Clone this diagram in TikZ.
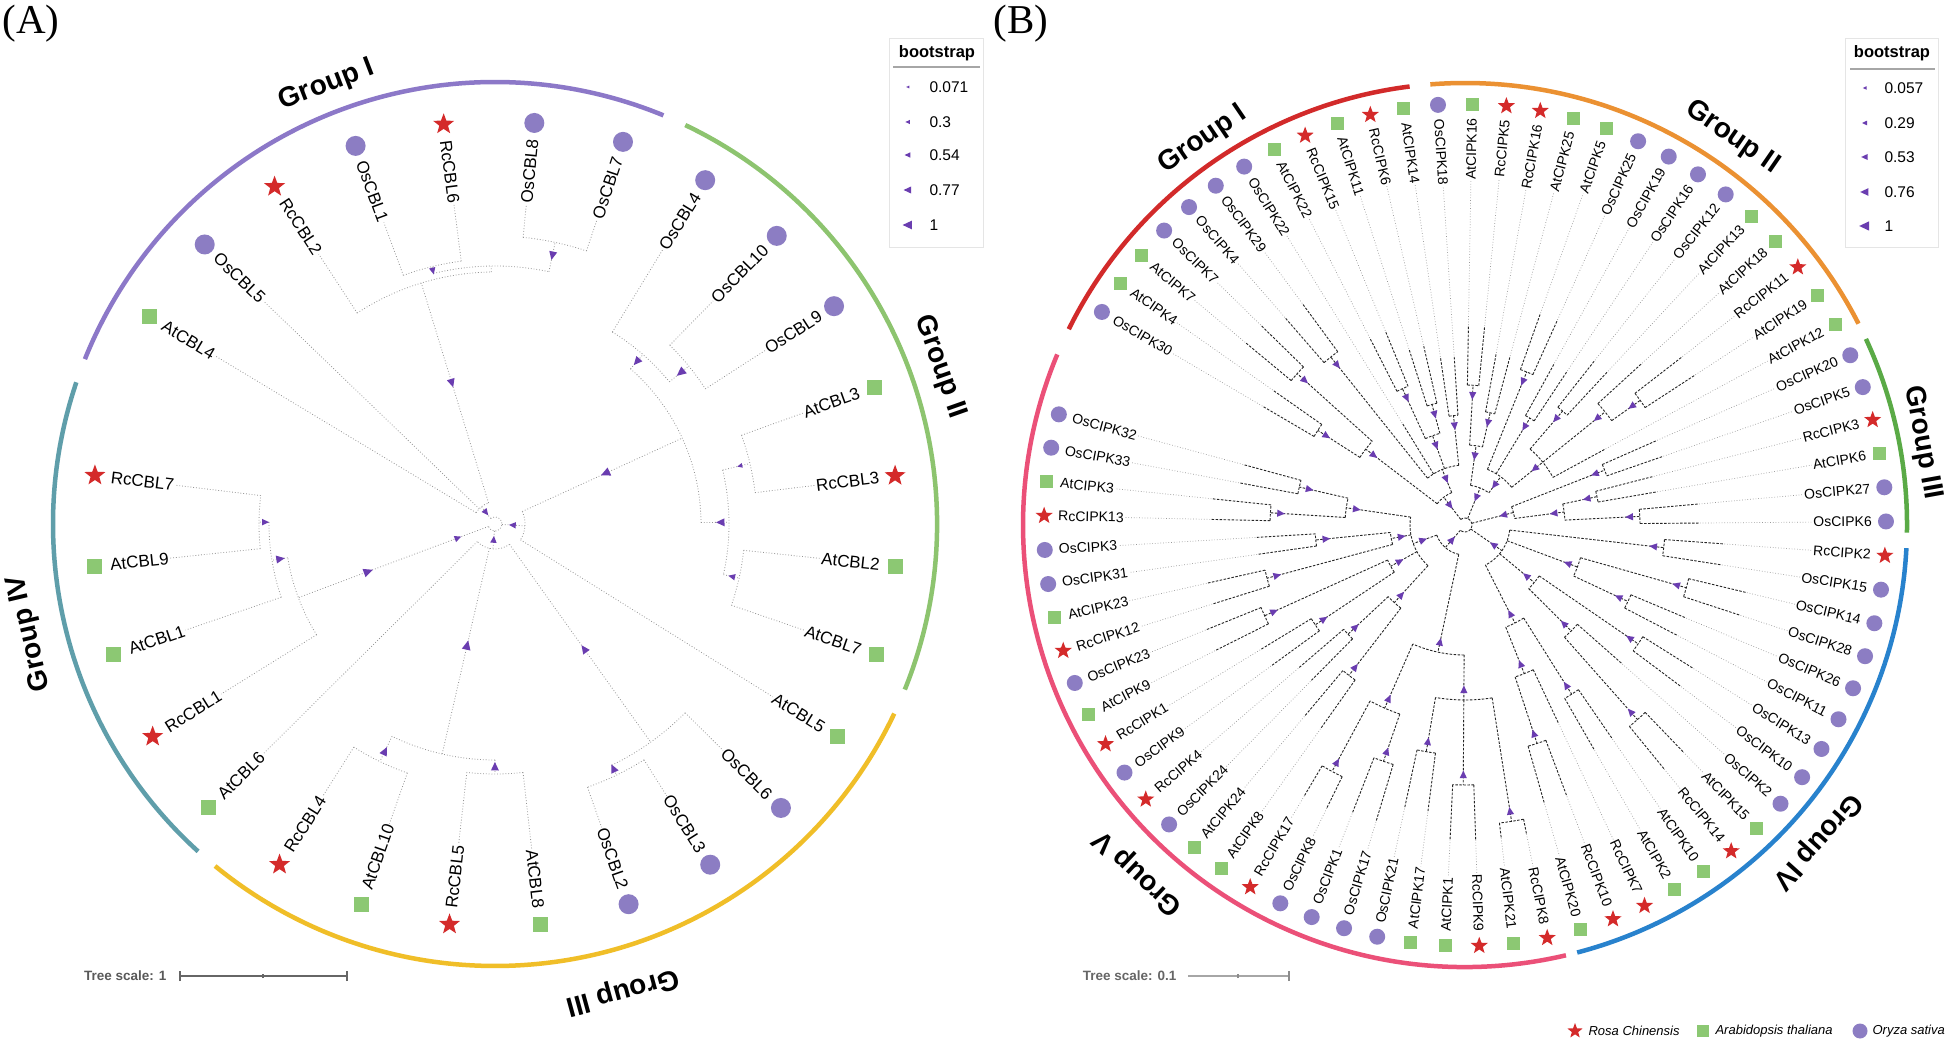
\documentclass[tikz,border=0pt]{standalone}
\usepackage{fontspec}
\setmainfont{Liberation Sans}
\newfontfamily\serifA{Liberation Serif}
\usetikzlibrary{shapes.geometric}

\definecolor{gIa}{HTML}{8C78C8}
\definecolor{gIIa}{HTML}{8DC46F}
\definecolor{gIIIa}{HTML}{F0BE28}
\definecolor{gIVa}{HTML}{5F9EAA}
\definecolor{gIb}{HTML}{D22A2A}
\definecolor{gIIb}{HTML}{EB9132}
\definecolor{gIIIb}{HTML}{5AAA46}
\definecolor{gIVb}{HTML}{2882CD}
\definecolor{gVb}{HTML}{EB5078}
\definecolor{osc}{HTML}{8C7DC3}
\definecolor{atc}{HTML}{8CC873}
\definecolor{rcc}{HTML}{D42A2A}
\definecolor{tricol}{HTML}{6A3DB0}

\tikzset{
  treeA/.style={draw=black!42, dotted, line width=0.8pt},
  brB/.style={draw=black!85, dash pattern=on 2.5pt off 1.5pt, line width=0.9pt},
  extB/.style={draw=black!40, dotted, line width=0.7pt},
  lblA/.style={font=\fontsize{17}{19}\selectfont, inner sep=1pt},
  lblB/.style={font=\fontsize{14}{16}\selectfont, inner sep=1pt},
  mkcA/.style={circle, fill=osc, minimum size=20pt, inner sep=0pt},
  mksA/.style={rectangle, fill=atc, minimum size=15pt, inner sep=0pt},
  mkrA/.style={star, star points=5, star point ratio=2.4, fill=rcc, minimum size=22pt, inner sep=0pt},
  mkcB/.style={circle, fill=osc, minimum size=16pt, inner sep=0pt},
  mksB/.style={rectangle, fill=atc, minimum size=13pt, inner sep=0pt},
  mkrB/.style={star, star points=5, star point ratio=2.4, fill=rcc, minimum size=18pt, inner sep=0pt},
  grp/.style={font=\bfseries\fontsize{28}{30}\selectfont},
  garc/.style={line width=4.5pt},
  legtxt/.style={font=\fontsize{15.5}{17}\selectfont, anchor=west},
  legtitle/.style={font=\bfseries\fontsize{16.5}{18}\selectfont},
}

\newcommand\Tri[3]{\fill[tricol, shift={(#1:#2)}, rotate=#1] (-#3,0) -- (0.7*#3,0.8*#3) -- (0.7*#3,-0.8*#3) -- cycle;}
\newcommand\LTri[3]{\fill[tricol, shift={(#1,#2)}] (-#3,0) -- (0.7*#3,0.8*#3) -- (0.7*#3,-0.8*#3) -- cycle;}
\newcommand\Atri[3]{\pgfmathsetmacro\qt{149-(#1-1)*12.92}\Tri{\qt}{#2}{#3}}

\newcommand\Aleaf[4]{%
  \pgfmathsetmacro\qang{149-(#1-1)*12.92}%
  \pgfmathtruncatemacro\qside{cos(\qang)<0 ? 1 : 0}%
  \edef\qtmp{\noexpand\node[#3] (Am#1) at (\qang:403) {};}\qtmp
  \ifnum\qside=1
    \node[lblA, anchor=west, rotate=\qang+180] (Al#1) at (\qang:388) {#2};
    \draw[treeA] (\qang:#4) -- (Al#1.east);
  \else
    \node[lblA, anchor=east, rotate=\qang] (Al#1) at (\qang:388) {#2};
    \draw[treeA] (\qang:#4) -- (Al#1.west);
  \fi}

\newcommand\Anode[4]{%
  \pgfmathsetmacro\qa{149-(#1-1)*12.92}%
  \pgfmathsetmacro\qb{149-(#2-1)*12.92}%
  \pgfmathsetmacro\qm{(\qa+\qb)/2}%
  \draw[treeA] (\qa:#3) arc[start angle=\qa, end angle=\qb, radius=#3pt];%
  \draw[treeA] (\qm:#4) -- (\qm:#3);}

\newcommand\Bleaf[4]{%
  \pgfmathsetmacro\qang{149.6-(#1-1)*4.66}%
  \pgfmathsetmacro\qtip{min(#4+60,315)}%
  \pgfmathtruncatemacro\qside{cos(\qang)<0 ? 1 : 0}%
  \edef\qtmp{\noexpand\node[#3] (Bm#1) at (\qang:421) {};}\qtmp
  \draw[brB] (\qang:#4) -- (\qang:\qtip);
  \ifnum\qside=1
    \node[lblB, anchor=west, rotate=\qang+180] (Bl#1) at (\qang:408) {#2};
    \draw[extB] (\qang:\qtip) -- (Bl#1.east);
  \else
    \node[lblB, anchor=east, rotate=\qang] (Bl#1) at (\qang:408) {#2};
    \draw[extB] (\qang:\qtip) -- (Bl#1.west);
  \fi}

\newcommand\Bnode[4]{%
  \pgfmathsetmacro\qa{149.6-(#1-1)*4.66}%
  \pgfmathsetmacro\qb{149.6-(#2-1)*4.66}%
  \pgfmathsetmacro\qm{(\qa+\qb)/2}%
  \pgfmathsetmacro\qr{#3-min(10,(#3-#4)/2)}%
  \draw[brB] (\qa:#3) arc[start angle=\qa, end angle=\qb, radius=#3pt];%
  \draw[brB] (\qm:#4) -- (\qm:#3);%
  \Tri{\qm}{\qr}{4.5}}

\begin{document}
\begin{tikzpicture}[x=1pt,y=1pt]
\useasboundingbox (0,0) rectangle (1950,1045);
\fill[white] (0,0) rectangle (1950,1045);

\node[font=\serifA\fontsize{41}{43}\selectfont] (labA) at (31,1021) {(A)};
\node[font=\serifA\fontsize{41}{43}\selectfont] (labB) at (1021,1021) {(B)};

% ================= TREE A =================
\begin{scope}[shift={(495,521)}]
  \draw[garc, gIa]   (158.1:442) arc[start angle=158.1, end angle=67.6, radius=442pt];
  \draw[garc, gIIa]  (64.5:442) arc[start angle=64.5, end angle=-22, radius=442pt];
  \draw[garc, gIIIa] (-25.4:442) arc[start angle=-25.4, end angle=-129.3, radius=442pt];
  \draw[garc, gIVa]  (-132.2:442) arc[start angle=-132.2, end angle=-198.7, radius=442pt];
  \node[grp, rotate=21] (gAI) at (111:470) {Group I};
  \node[grp, rotate=-70.6] (gAII) at (19.4:472) {Group II};
  \node[grp, rotate=-164.7] (gAIII) at (-74.7:484) {Group III};
  \node[grp, rotate=103.2] (gAIV) at (193.2:478) {Group IV};

  \Anode{4}{5}{265}{258}
  \Anode{6}{7}{288}{258}
  \Anode{4.5}{6.5}{258}{252}
  \Anode{3}{5.5}{252}{22}
  \Anode{1}{4.25}{22}{7}
  \Anode{9}{10}{250}{225}
  \Anode{8}{9.5}{225}{206}
  \Anode{11}{12}{262}{234}
  \Anode{13}{14}{250}{234}
  \Anode{11.5}{13.5}{234}{206}
  \Anode{8.75}{12.5}{206}{30}
  \Anode{10.625}{15}{30}{7}
  \Anode{17}{18}{279}{268}
  \Anode{16}{17.5}{268}{25}
  \Anode{19}{20}{250}{236}
  \Anode{21}{22}{264}{236}
  \Anode{19.5}{21.5}{236}{25}
  \Anode{16.75}{23}{25}{7}
  \Anode{26}{27}{236}{226}
  \Anode{25}{26.5}{226}{210}
  \Anode{24}{25.75}{210}{7}
  \Anode{2.625}{24.875}{7}{7}

  \foreach \i/\nm/\mk/\pr in {
    1/AtCBL4/mksA/22, 2/OsCBL5/mkcA/22, 3/RcCBL2/mkrA/252, 4/OsCBL1/mkcA/265,
    5/RcCBL6/mkrA/265, 6/OsCBL8/mkcA/288, 7/OsCBL7/mkcA/288, 8/OsCBL4/mkcA/225,
    9/OsCBL10/mkcA/250, 10/OsCBL9/mkcA/250, 11/AtCBL3/mksA/262, 12/RcCBL3/mkrA/262,
    13/AtCBL2/mksA/250, 14/AtCBL7/mksA/250, 15/AtCBL5/mksA/30, 16/OsCBL6/mkcA/268,
    17/OsCBL3/mkcA/279, 18/OsCBL2/mkcA/279, 19/AtCBL8/mksA/250, 20/RcCBL5/mkrA/250,
    21/AtCBL10/mksA/264, 22/RcCBL4/mkrA/264, 23/AtCBL6/mksA/25, 24/RcCBL1/mkrA/210,
    25/AtCBL1/mksA/226, 26/AtCBL9/mksA/236, 27/RcCBL7/mkrA/236}
    {\Aleaf{\i}{\nm}{\mk}{\pr}}

  \Atri{4.25}{148}{5}  \Atri{4.5}{261}{4}   \Atri{6.5}{275}{5}
  \Atri{8.75}{216}{5}  \Atri{9.5}{240}{5.5} \Atri{10.625}{122}{5.5}
  \Atri{11.5}{252}{3}  \Atri{12.5}{226}{5}  \Atri{13.5}{243}{4}
  \Atri{16.75}{154}{5} \Atri{17.5}{272}{5}  \Atri{19.5}{243}{5}
  \Atri{21.5}{253}{5}  \Atri{20.5}{125}{5.5} \Atri{26.5}{230}{4}
  \Atri{25.75}{218}{5} \Atri{24.875}{136}{5.5} \Atri{2.625}{15}{4}
  \Atri{12.8125}{18}{4} \Atri{19.875}{16}{4} \Atri{24.875}{40}{4}
\end{scope}

% legend A
\draw[black!10, line width=0.8pt] (889,798) rectangle (983,1007);
\node[legtitle] (ltA) at (937,992) {bootstrap};
\draw[black!35, line width=1.2pt] (893,978) -- (980,978);
\LTri{908}{958}{1.8} \node[legtxt] (lA1) at (926,958) {0.071};
\LTri{908}{923}{2.6} \node[legtxt] (lA2) at (926,923) {0.3};
\LTri{908}{890}{3.4} \node[legtxt] (lA3) at (926,890) {0.54};
\LTri{908}{855}{4.4} \node[legtxt] (lA4) at (926,855) {0.77};
\LTri{908}{820}{5.4} \node[legtxt] (lA5) at (926,820) {1};

% tree scale A
\node[anchor=east, text=black!65, font=\bfseries\fontsize{13.5}{15}\selectfont] (tsA) at (170,69) {Tree scale: 1};
\draw[black!60, line width=1.5pt] (180,69) -- (347,69);
\draw[black!60, line width=1.5pt] (180,64) -- (180,74) (347,64) -- (347,74) (263,67) -- (263,71);

% ================= TREE B =================
\begin{scope}[shift={(1465,520)}]
  \draw[garc, gIb]   (153.7:442) arc[start angle=153.7, end angle=97.2, radius=442pt];
  \draw[garc, gIIb]  (94.5:442) arc[start angle=94.5, end angle=27.1, radius=442pt];
  \draw[garc, gIIIb] (24.9:442) arc[start angle=24.9, end angle=-1, radius=442pt];
  \draw[garc, gIVb]  (-3:442) arc[start angle=-3, end angle=-75.3, radius=442pt];
  \draw[garc, gVb]   (-76.8:442) arc[start angle=-76.8, end angle=-202.7, radius=442pt];
  \node[grp, rotate=34.2] (gBI) at (124.2:466) {Group I};
  \node[grp, rotate=-34.6] (gBII) at (55.4:471) {Group II};
  \node[grp, rotate=-79.8] (gBIII) at (10.2:465) {Group III};
  \node[grp, rotate=-131.9] (gBIV) at (-41.9:473) {Group IV};
  \node[grp, rotate=136.8] (gBV) at (226.8:477) {Group V};

  % internal nodes: pmin, pmax, r, rparent
  \Bnode{1}{2}{175}{125}   \Bnode{3}{4}{226}{125}   \Bnode{1.5}{3.5}{125}{35}
  \Bnode{5}{6}{215}{60}    \Bnode{8}{9}{150}{95}    \Bnode{10}{11}{125}{95}
  \Bnode{8.5}{10.5}{95}{60} \Bnode{12}{13}{110}{60} \Bnode{5.5}{12.5}{60}{35}
  \Bnode{2.5}{9}{35}{7}
  \Bnode{14}{15}{140}{80}  \Bnode{16}{17}{115}{80}  \Bnode{14.5}{16.5}{80}{40}
  \Bnode{18}{19}{165}{60}  \Bnode{20}{21}{125}{60}  \Bnode{22}{23}{150}{100}
  \Bnode{25}{26}{215}{180} \Bnode{24}{25.5}{180}{100} \Bnode{22.5}{27}{100}{60}
  \Bnode{18.5}{24.75}{60}{40} \Bnode{15.5}{21.625}{40}{7}
  \Bnode{28}{29}{150}{50}  \Bnode{30}{31}{135}{100} \Bnode{32}{33}{175}{100}
  \Bnode{30.5}{32.5}{100}{50} \Bnode{28.5}{31.5}{50}{7}
  \Bnode{34}{35}{200}{45}  \Bnode{36}{37}{230}{120} \Bnode{38}{39}{180}{120}
  \Bnode{36.5}{38.5}{120}{45} \Bnode{40}{41}{210}{90} \Bnode{43}{44}{260}{150}
  \Bnode{42}{43.5}{150}{90} \Bnode{40.5}{42.75}{90}{45} \Bnode{45}{46}{200}{110}
  \Bnode{48}{49}{230}{160} \Bnode{47}{48.5}{160}{110} \Bnode{45.5}{47.75}{110}{45}
  \Bnode{34.5}{46.625}{45}{7}
  \Bnode{50}{51}{300}{175} \Bnode{52}{53}{260}{175} \Bnode{54}{55}{230}{175}
  \Bnode{50.5}{54.5}{175}{130} \Bnode{56}{57}{250}{200} \Bnode{58}{59}{280}{200}
  \Bnode{56.5}{58.5}{200}{130} \Bnode{52.5}{57.5}{130}{30}
  \Bnode{60}{61}{190}{105} \Bnode{62}{63}{160}{105} \Bnode{60.5}{62.5}{105}{55}
  \Bnode{64}{65}{180}{85}  \Bnode{66}{67}{220}{85}  \Bnode{64.5}{66.5}{85}{55}
  \Bnode{68}{69}{205}{75}  \Bnode{70}{71}{150}{75}  \Bnode{68.5}{70.5}{75}{55}
  \Bnode{72}{73}{195}{120} \Bnode{74}{75}{170}{120} \Bnode{72.5}{74.5}{120}{55}
  \Bnode{61.5}{73.5}{55}{30} \Bnode{55}{67.5}{30}{7}
  \pgfmathsetmacro\qa{149.6-(5.75-1)*4.66}
  \pgfmathsetmacro\qb{149.6-(61.25-1)*4.66}
  \draw[brB] (\qa:7) arc[start angle=\qa, end angle=\qb, radius=7pt];

  \foreach \i/\nm/\mk/\pr in {
    1/OsCIPK30/mkcB/175, 2/AtCIPK4/mksB/175, 3/AtCIPK7/mksB/226, 4/OsCIPK7/mkcB/226,
    5/OsCIPK4/mkcB/215, 6/OsCIPK29/mkcB/215, 7/OsCIPK22/mkcB/60, 8/AtCIPK22/mksB/150,
    9/RcCIPK15/mkrB/150, 10/AtCIPK11/mksB/125, 11/RcCIPK6/mkrB/125, 12/AtCIPK14/mksB/110,
    13/OsCIPK18/mkcB/110, 14/AtCIPK16/mksB/140, 15/RcCIPK5/mkrB/140, 16/RcCIPK16/mkrB/115,
    17/AtCIPK25/mksB/115, 18/AtCIPK5/mksB/165, 19/OsCIPK25/mkcB/165, 20/OsCIPK19/mkcB/125,
    21/OsCIPK16/mkcB/125, 22/OsCIPK12/mkcB/150, 23/AtCIPK13/mksB/150, 24/AtCIPK18/mksB/180,
    25/RcCIPK11/mkrB/215, 26/AtCIPK19/mksB/215, 27/AtCIPK12/mksB/100, 28/OsCIPK20/mkcB/150,
    29/OsCIPK5/mkcB/150, 30/RcCIPK3/mkrB/135, 31/AtCIPK6/mksB/135, 32/OsCIPK27/mkcB/175,
    33/OsCIPK6/mkcB/175, 34/RcCIPK2/mkrB/200, 35/OsCIPK15/mkcB/200, 36/OsCIPK14/mkcB/230,
    37/OsCIPK28/mkcB/230, 38/OsCIPK26/mkcB/180, 39/OsCIPK11/mkcB/180, 40/OsCIPK13/mkcB/210,
    41/OsCIPK10/mkcB/210, 42/OsCIPK2/mkcB/150, 43/AtCIPK15/mksB/260, 44/RcCIPK14/mkrB/260,
    45/AtCIPK10/mksB/200, 46/AtCIPK2/mksB/200, 47/RcCIPK7/mkrB/160, 48/RcCIPK10/mkrB/230,
    49/AtCIPK20/mksB/230, 50/RcCIPK8/mkrB/300, 51/AtCIPK21/mksB/300, 52/RcCIPK9/mkrB/260,
    53/AtCIPK1/mksB/260, 54/AtCIPK17/mksB/230, 55/OsCIPK21/mkcB/230, 56/OsCIPK17/mkcB/250,
    57/OsCIPK1/mkcB/250, 58/OsCIPK8/mkcB/280, 59/RcCIPK17/mkrB/280, 60/AtCIPK8/mksB/190,
    61/AtCIPK24/mksB/190, 62/OsCIPK24/mkcB/160, 63/RcCIPK4/mkrB/160, 64/OsCIPK9/mkcB/180,
    65/RcCIPK1/mkrB/180, 66/AtCIPK9/mksB/220, 67/OsCIPK23/mkcB/220, 68/RcCIPK12/mkrB/205,
    69/AtCIPK23/mksB/205, 70/OsCIPK31/mkcB/150, 71/OsCIPK3/mkcB/150, 72/RcCIPK13/mkrB/195,
    73/AtCIPK3/mksB/195, 74/OsCIPK33/mkcB/170, 75/OsCIPK32/mkcB/170}
    {\Bleaf{\i}{\nm}{\mk}{\pr}}
\end{scope}

% legend B
\draw[black!10, line width=0.8pt] (1845,798) rectangle (1938,1007);
\node[legtitle] (ltB) at (1892,992) {bootstrap};
\draw[black!35, line width=1.2pt] (1850,976) -- (1935,976);
\LTri{1865}{957}{2.2} \node[legtxt] (lB1) at (1881,957) {0.057};
\LTri{1865}{922}{3.0} \node[legtxt] (lB2) at (1881,922) {0.29};
\LTri{1865}{888}{3.8} \node[legtxt] (lB3) at (1881,888) {0.53};
\LTri{1865}{853}{4.8} \node[legtxt] (lB4) at (1881,853) {0.76};
\LTri{1865}{819}{5.8} \node[legtxt] (lB5) at (1881,819) {1};

% tree scale B
\node[anchor=east, text=black!60, font=\bfseries\fontsize{13.5}{15}\selectfont] (tsB) at (1180,69) {Tree scale: 0.1};
\draw[black!35, line width=1.2pt] (1188,69) -- (1289,69);
\draw[black!45, line width=1.2pt] (1289,64) -- (1289,74) (1238,67) -- (1238,71);

% species legend
\node[mkrB, minimum size=16pt] (spR) at (1575,14) {};
\node[anchor=west, font=\itshape\fontsize{13}{15}\selectfont] (spRt) at (1585,14) {Rosa Chinensis};
\node[mksB, minimum size=12pt] (spA) at (1703,14) {};
\node[anchor=west, font=\itshape\fontsize{13}{15}\selectfont] (spAt) at (1712,14) {Arabidopsis thaliana};
\node[mkcB, minimum size=15pt] (spO) at (1860,14) {};
\node[anchor=west, font=\itshape\fontsize{13}{15}\selectfont] (spOt) at (1869,14) {Oryza sativa};
\end{tikzpicture}
\end{document}
